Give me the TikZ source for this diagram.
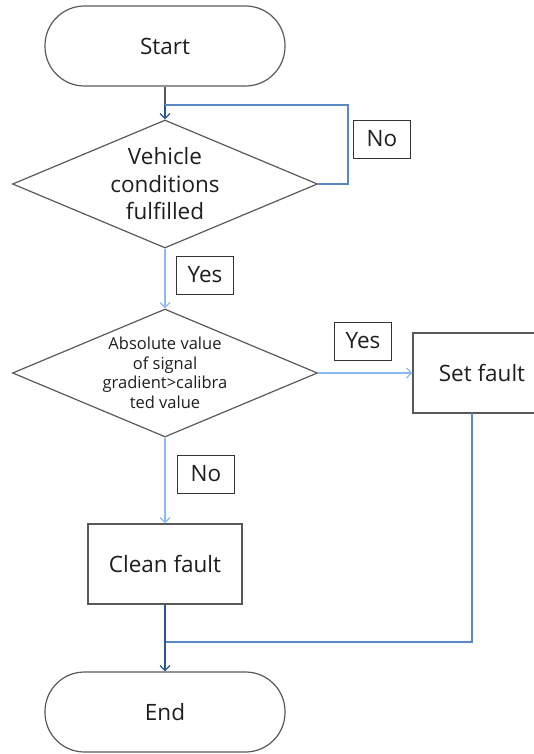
\documentclass[tikz,border=0pt]{standalone}
\usepackage{fontspec}
\setmainfont{Open Sans}
\usetikzlibrary{shapes.geometric,arrows.meta}
\definecolor{shapegray}{HTML}{595959}
\definecolor{lightblue}{HTML}{8DB9F2}
\definecolor{midblue}{HTML}{5A88C6}
\definecolor{darkblue}{HTML}{2C5595}
\definecolor{txt}{HTML}{1E1E1E}
\begin{document}
\begin{tikzpicture}[x=1pt,y=-1pt,
  bigfont/.style={font=\fontsize{22.5}{27.5}\selectfont},
  terminal/.style={draw=shapegray, line width=1.2pt, rounded corners=39.5pt, minimum width=240pt, minimum height=80pt, bigfont, text=txt},
  decision/.style={diamond, draw=shapegray, line width=1.2pt, aspect=2.383, minimum width=305pt, minimum height=128pt, inner sep=-2pt, align=center, text=txt},
  process/.style={draw=shapegray, line width=1.2pt, minimum height=80pt, bigfont, text=txt},
  tag/.style={draw=black!80, line width=0.9pt, minimum width=57pt, minimum height=38pt, inner sep=0pt, bigfont, text=txt},
  arr/.style={-{Straight Barb[length=5pt,width=10pt]}},
  line width=1.2pt]
\useasboundingbox (0,0) rectangle (534,754);

\node[terminal] (start) at (165,46) {Start};
\node[decision, bigfont] (d1) at (165,184) {Vehicle\\conditions\\fulfilled};
\node[tag] (no1) at (382,139) {No};
\node[tag] (yes1) at (205,275) {Yes};
\node[decision, font=\fontsize{16.5}{19.5}\selectfont] (d2) at (165,373) {Absolute value\\of signal\\gradient>calibra\\ted value};
\node[tag] (yes2) at (363,341) {Yes};
\node[process, minimum width=138pt] (setf) at (482,373) {Set fault};
\node[tag] (no2) at (206,474) {No};
\node[process, minimum width=154pt] (clean) at (165,564) {Clean fault};
\node[terminal] (end) at (165,712) {End};

\coordinate (loopjoin) at (165,105);
\coordinate (loopc) at (348,105);
\coordinate (sfb) at (472,413);
\coordinate (endjoin) at (165,642);

\draw[shapegray] (start.south) -- (loopjoin);
\draw[darkblue, arr] (loopjoin) -- (d1.north);
\draw[midblue] (d1.east) -| (loopc) -- (loopjoin);
\draw[lightblue, arr] (d1.south) -- (d2.north);
\draw[lightblue, arr] (d2.east) -- (setf.west);
\draw[lightblue, arr] (d2.south) -- (clean.north);
\draw[midblue] (sfb) |- (endjoin);
\draw[darkblue] (clean.south) -- (endjoin);
\draw[darkblue, arr] (endjoin) -- (end.north);
\end{tikzpicture}
\end{document}
